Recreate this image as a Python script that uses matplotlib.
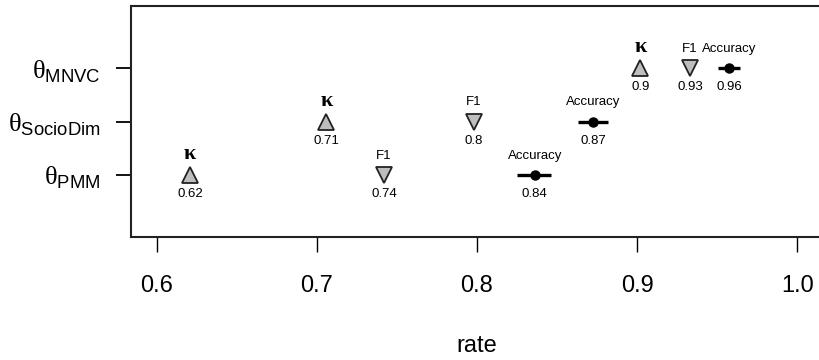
import matplotlib
matplotlib.use("Agg")
import matplotlib.pyplot as plt

plt.rcParams['font.family'] = ['Liberation Sans', 'DejaVu Sans']
plt.rcParams['mathtext.fontset'] = 'custom'
plt.rcParams['mathtext.rm'] = 'Liberation Serif'
plt.rcParams['mathtext.sf'] = 'Liberation Sans'

# models on the y axis (bottom to top)
models = ['PMM', 'SocioDim', 'MNVC']
ypos = [1, 2, 3]

# measures per model
kappa = [0.621, 0.706, 0.902]
f1 = [0.742, 0.798, 0.933]
acc = [0.836, 0.8725, 0.9575]
acc_lo = [0.825, 0.863, 0.9506]
acc_hi = [0.846, 0.882, 0.9644]

xticks = [0.6, 0.7, 0.8, 0.9, 1.0]

fig = plt.figure(figsize=(8.2, 3.6), dpi=100)
ax = fig.add_axes([131/820, 123/360, 692/820, 231/360])

gray = '#bebebe'
# kappa: up triangles
ax.plot(kappa, ypos, linestyle='none', marker='^', ms=11, mfc=gray, mec='#222222', mew=1.3)
# F1: down triangles
ax.plot(f1, ypos, linestyle='none', marker='v', ms=11, mfc=gray, mec='#222222', mew=1.3)
# accuracy: dot with interval
ax.hlines(ypos, acc_lo, acc_hi, colors='black', lw=2.4)
ax.plot(acc, ypos, linestyle='none', marker='o', ms=6.5, color='black')

for k, f, a, y in zip(kappa, f1, acc, ypos):
    ax.annotate('κ', (k, y), xytext=(0, 15), textcoords='offset points', ha='center', va='center',
                fontsize=16, fontweight='bold', family='Liberation Serif')
    ax.annotate('F1', (f, y), xytext=(0, 14), textcoords='offset points', ha='center', va='center', fontsize=9.5)
    ax.annotate('Accuracy', (a, y), xytext=(0, 14), textcoords='offset points', ha='center', va='center', fontsize=9.5)
    for v in (k, f, a):
        ax.annotate('%g' % round(v, 2), (v, y), xytext=(0, -14), textcoords='offset points',
                    ha='center', va='center', fontsize=9.5)

ax.set_xlim(0.584, 1.016)
ax.set_ylim(-0.16, 4.16)
ax.set_xticks(xticks)
ax.set_xticklabels(['%.1f' % t for t in xticks], fontsize=17)
ax.set_yticks(ypos)
ax.set_yticklabels([r'$\mathrm{θ}_{\mathsf{%s}}$' % m for m in models], fontsize=19)
ax.tick_params(axis='x', length=11, width=1, pad=16, direction='out')
ax.tick_params(axis='y', length=11, width=1.3, pad=11, direction='out')
ax.set_xlabel('rate', fontsize=17, labelpad=28)

for s in ['left', 'bottom', 'top']:
    ax.spines[s].set_linewidth(1.5)
    ax.spines[s].set_color('#222222')
ax.spines['right'].set_visible(False)

fig.savefig('out.png', dpi=100)
